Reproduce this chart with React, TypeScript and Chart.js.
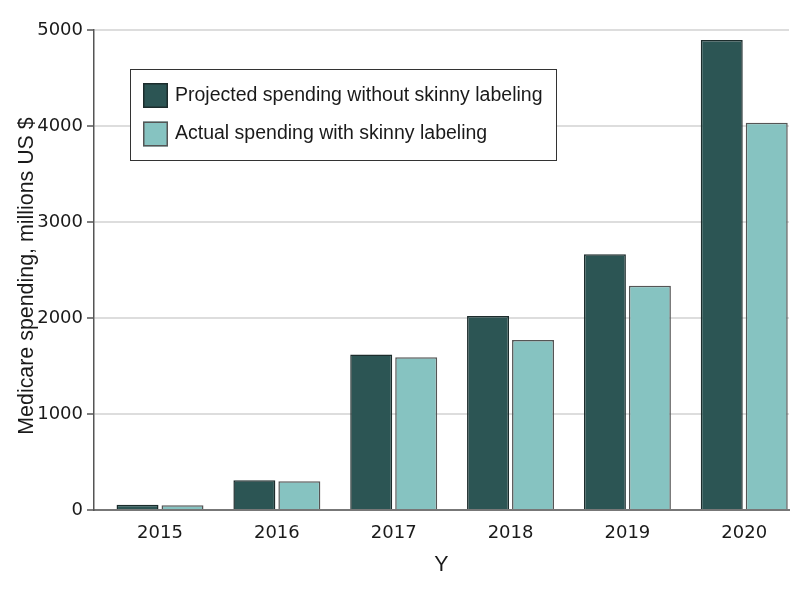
import React, { useEffect, useRef } from "react";
import { Chart, registerables } from "chart.js";

Chart.register(...registerables);

const years = [2015, 2016, 2017, 2018, 2019, 2020];
const projected = [55, 310, 1620, 2020, 2665, 4895];
const actual = [50, 300, 1590, 1770, 2335, 4035];
const yTickValues = [0, 1000, 2000, 3000, 4000, 5000];
const seriesLabels = [
  "Projected spending without skinny labeling",
  "Actual spending with skinny labeling",
];
const xTitle = "Y";
const yTitle = "Medicare spending, millions US $";

const DARK = "#2c5554";
const LIGHT = "#86c3c1";
const TICK_FONT = "DejaVu Sans";
const TITLE_FONT = "Liberation Sans";

const boxLegend = {
  id: "boxLegend",
  afterDraw(chart: any) {
    const ctx = chart.ctx as CanvasRenderingContext2D;
    const x = 130, y = 69, w = 426, h = 91;
    ctx.save();
    ctx.fillStyle = "#ffffff";
    ctx.fillRect(x, y, w, h);
    ctx.strokeStyle = "#333333";
    ctx.lineWidth = 1;
    ctx.strokeRect(x + 0.5, y + 0.5, w, h);
    chart.data.datasets.forEach((ds: any, i: number) => {
      const sy = 83 + i * 38.5;
      ctx.fillStyle = ds.backgroundColor;
      ctx.fillRect(143, sy, 25, 25);
      ctx.strokeStyle = ds.borderColor;
      ctx.lineWidth = 1.5;
      ctx.strokeRect(143.75, sy + 0.75, 23.5, 23.5);
      ctx.fillStyle = "#1a1a1a";
      ctx.font = `19.5px "${TITLE_FONT}"`;
      ctx.textBaseline = "middle";
      ctx.textAlign = "left";
      ctx.fillText(ds.label, 175, sy + 12.3);
    });
    ctx.restore();
  },
};

const yTitlePlugin = {
  id: "yTitlePlugin",
  afterDraw(chart: any) {
    const ctx = chart.ctx as CanvasRenderingContext2D;
    const area = chart.chartArea;
    ctx.save();
    ctx.translate(27.6, (area.top + area.bottom) / 2 + 6);
    ctx.rotate(-Math.PI / 2);
    ctx.fillStyle = "#1a1a1a";
    ctx.font = `21.4px "${TITLE_FONT}"`;
    ctx.textAlign = "center";
    ctx.textBaseline = "middle";
    ctx.fillText(yTitle, 0, 0);
    ctx.restore();
  },
};

export default function App() {
  const ref = useRef<HTMLCanvasElement | null>(null);

  useEffect(() => {
    document.body.style.margin = "0";
    if (!ref.current) return;
    const chart = new Chart(ref.current, {
      type: "bar",
      data: {
        datasets: [
          {
            label: seriesLabels[0],
            data: years.map((x, i) => ({ x, y: projected[i] })),
            backgroundColor: DARK,
            borderColor: "#1c2c2c",
            borderWidth: 1.5,
            categoryPercentage: 0.77,
            barPercentage: 0.933,
          },
          {
            label: seriesLabels[1],
            data: years.map((x, i) => ({ x, y: actual[i] })),
            backgroundColor: LIGHT,
            borderColor: "#555555",
            borderWidth: 1.5,
            categoryPercentage: 0.77,
            barPercentage: 0.933,
          },
        ],
      },
      options: {
        animation: false,
        responsive: true,
        maintainAspectRatio: false,
        layout: { padding: { top: 30, right: 5, left: 0, bottom: 0 } },
        plugins: {
          legend: { display: false },
          tooltip: { enabled: false },
        },
        scales: {
          x: {
            type: "linear",
            offset: false,
            min: 2014.435,
            max: 2020.383,
            afterBuildTicks: (s: any) => {
              s.ticks = years.map((v) => ({ value: v }));
            },
            afterFit: (s: any) => {
              s.height = 85;
            },
            grid: { display: false, drawTicks: false },
            border: { display: true, color: "#777777", width: 2 },
            ticks: {
              font: { family: TICK_FONT, size: 18 },
              color: "#1a1a1a",
              padding: 13,
              callback: (v: any) => String(v),
            },
            title: {
              display: true,
              text: xTitle,
              font: { family: TITLE_FONT, size: 21.4 },
              color: "#1a1a1a",
              padding: { top: 0, bottom: 17 },
            },
          },
          y: {
            min: 0,
            max: 5000,
            afterBuildTicks: (s: any) => {
              s.ticks = yTickValues.map((v) => ({ value: v }));
            },
            afterFit: (s: any) => {
              s.width = 94;
            },
            grid: {
              color: "#dddddd",
              lineWidth: 2,
              tickLength: 7,
              tickColor: "#555555",
              tickWidth: 1.5,
            },
            border: { display: true, color: "#555555", width: 1.5 },
            ticks: {
              font: { family: TICK_FONT, size: 18 },
              color: "#1a1a1a",
              padding: 4,
              callback: (v: any) => String(v),
            },
            title: { display: false },
          },
        },
      },
      plugins: [boxLegend, yTitlePlugin],
    } as any);
    return () => chart.destroy();
  }, []);

  return (
    <div style={{ width: 794, height: 595, position: "relative" }}>
      <canvas ref={ref} />
    </div>
  );
}
